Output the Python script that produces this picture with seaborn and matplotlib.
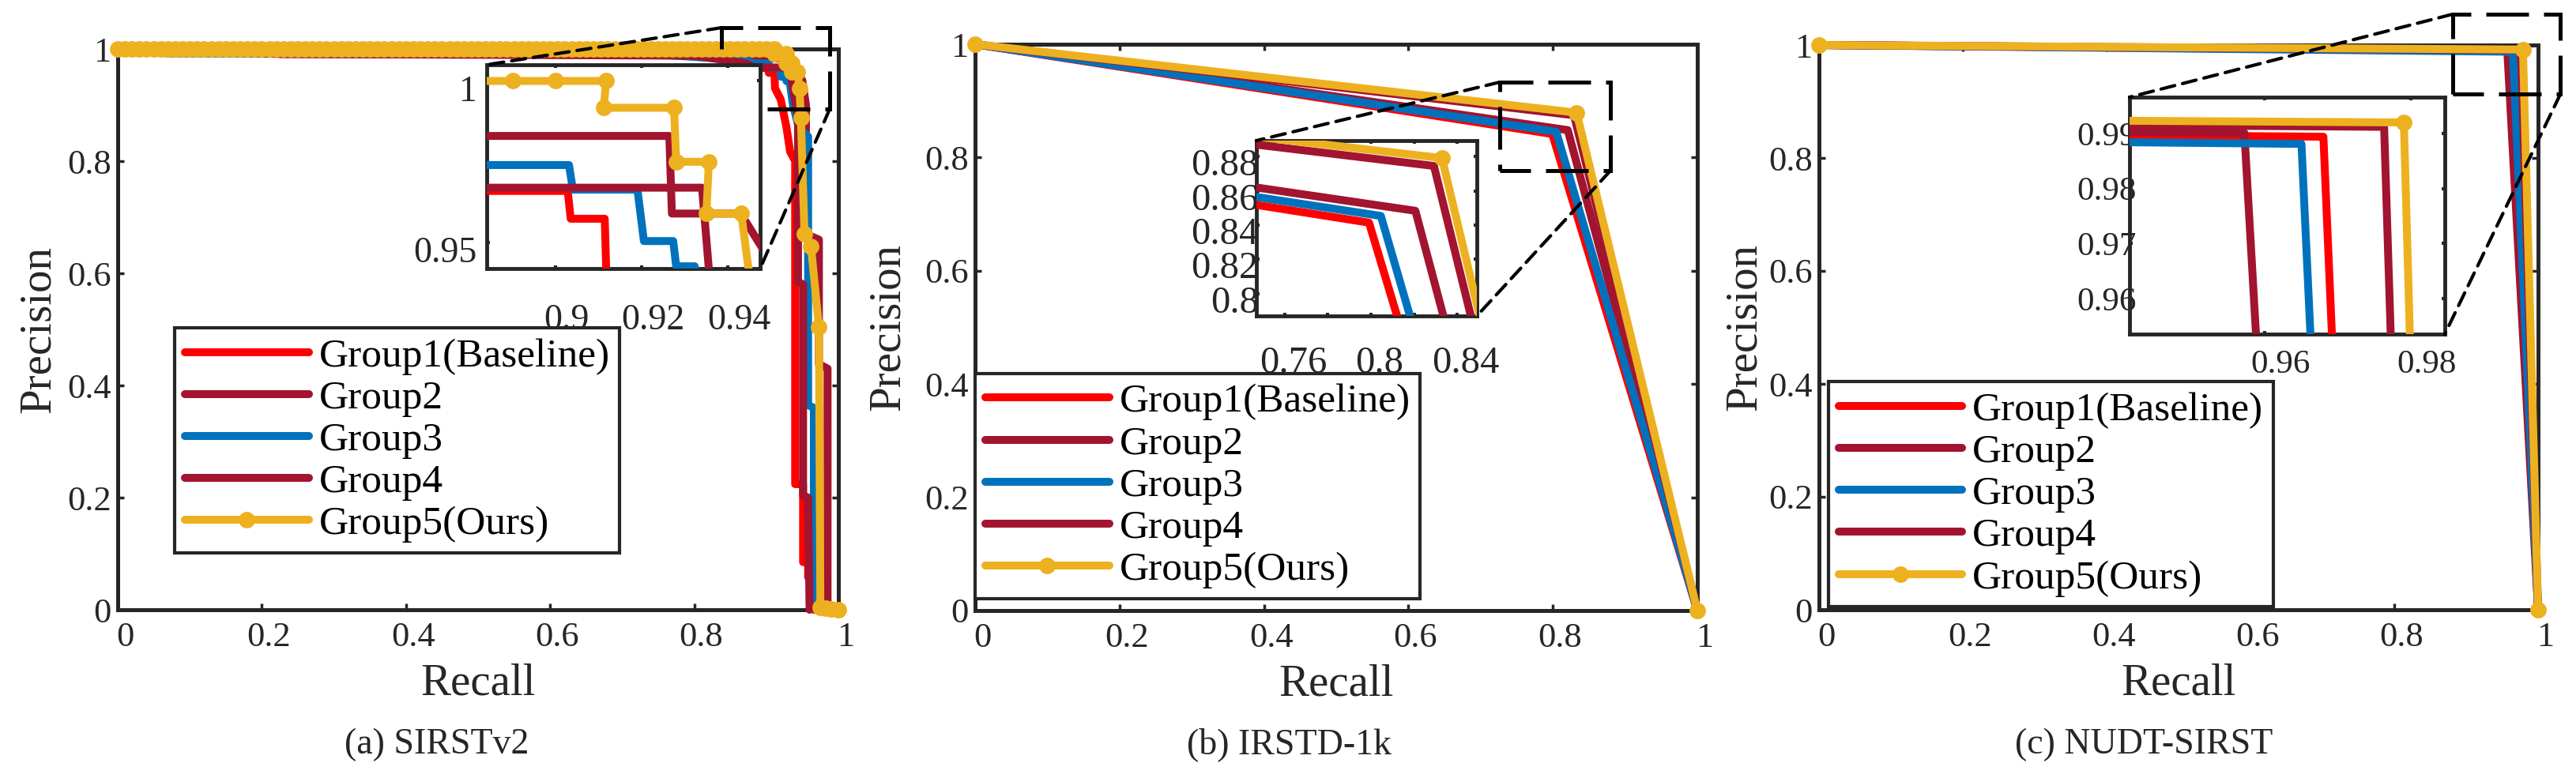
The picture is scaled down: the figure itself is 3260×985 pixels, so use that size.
import matplotlib.pyplot as plt
import matplotlib.transforms as mtrans
from matplotlib.patches import Rectangle, ConnectionPatch
import seaborn as sns
import pandas as pd

W, H = 3260, 985
INK = '#262626'

groups = ['Group1(Baseline)', 'Group2', 'Group3', 'Group4', 'Group5(Ours)']
palette = ['#FF0000', '#A2142F', '#0072BD', '#A2142F', '#EDB120']

# ---------------- (a) SIRSTv2 : PR curves ----------------
a_rec_g1 = [0, 0.60, 0.80, 0.85, 0.884, 0.9028, 0.9035, 0.9114, 0.912, 0.92, 0.928, 0.933,
            0.940, 0.940, 0.951, 0.951, 0.958, 0.958, 0.966, 0.966]
a_pre_g1 = [1.0, 0.995, 0.99, 0.985, 0.966, 0.966, 0.9574, 0.9574, 0.93, 0.91, 0.86, 0.817,
            0.80, 0.224, 0.224, 0.085, 0.085, 0.058, 0.058, 0.0]
a_rec_g2 = [0, 0.23, 0.80, 0.87, 0.884, 0.9264, 0.927, 0.943, 0.95, 0.955, 0.955, 0.973,
            0.973, 0.985, 0.985]
a_pre_g2 = [1.0, 0.991, 0.99, 0.985, 0.983, 0.983, 0.959, 0.959, 0.944, 0.90, 0.67, 0.66,
            0.438, 0.43, 0.0]
a_rec_g3 = [0, 0.07, 0.75, 0.87, 0.884, 0.9031, 0.904, 0.919, 0.9205, 0.9273, 0.928, 0.9323,
            0.937, 0.945, 0.958, 0.958, 0.966, 0.966, 0.97]
a_pre_g3 = [1.0, 0.992, 0.99, 0.98, 0.974, 0.974, 0.9664, 0.9664, 0.9505, 0.9505, 0.9427, 0.9427,
            0.90, 0.86, 0.844, 0.365, 0.36, 0.124, 0.0]
a_rec_g4 = [0, 0.23, 0.80, 0.87, 0.884, 0.934, 0.9357, 0.944, 0.944, 0.951, 0.951, 0.958, 0.96]
a_pre_g4 = [1.0, 0.991, 0.988, 0.975, 0.967, 0.967, 0.94, 0.877, 0.585, 0.58, 0.204, 0.2, 0.0]
a_rec_g5 = [0.00, 0.01, 0.02, 0.03, 0.04, 0.05, 0.06, 0.07, 0.08, 0.09,
            0.10, 0.11, 0.12, 0.13, 0.14, 0.15, 0.16, 0.17, 0.18, 0.19,
            0.20, 0.21, 0.22, 0.23, 0.24, 0.25, 0.26, 0.27, 0.28, 0.29,
            0.30, 0.31, 0.32, 0.33, 0.34, 0.35, 0.36, 0.37, 0.38, 0.39,
            0.40, 0.41, 0.42, 0.43, 0.44, 0.45, 0.46, 0.47, 0.48, 0.49,
            0.50, 0.51, 0.52, 0.53, 0.54, 0.55, 0.56, 0.57, 0.58, 0.59,
            0.60, 0.61, 0.62, 0.63, 0.64, 0.65, 0.66, 0.67, 0.68, 0.69,
            0.70, 0.71, 0.72, 0.73, 0.74, 0.75, 0.76, 0.77, 0.78, 0.79,
            0.80, 0.81, 0.82, 0.83, 0.84, 0.85, 0.86, 0.87, 0.88, 0.89, 0.90,
            0.9117, 0.9112, 0.9275, 0.928, 0.9356, 0.935, 0.9431, 0.946, 0.948, 0.953,
            0.962, 0.973, 0.975, 0.982, 0.990, 1.0]
a_pre_g5 = [1.0, 1.0, 1.0, 1.0, 1.0, 1.0, 1.0, 1.0, 1.0, 1.0,
            1.0, 1.0, 1.0, 1.0, 1.0, 1.0, 1.0, 1.0, 1.0, 1.0,
            1.0, 1.0, 1.0, 1.0, 1.0, 1.0, 1.0, 1.0, 1.0, 1.0,
            1.0, 1.0, 1.0, 1.0, 1.0, 1.0, 1.0, 1.0, 1.0, 1.0,
            1.0, 1.0, 1.0, 1.0, 1.0, 1.0, 1.0, 1.0, 1.0, 1.0,
            1.0, 1.0, 1.0, 1.0, 1.0, 1.0, 1.0, 1.0, 1.0, 1.0,
            1.0, 1.0, 1.0, 1.0, 1.0, 1.0, 1.0, 1.0, 1.0, 1.0,
            1.0, 1.0, 1.0, 1.0, 1.0, 1.0, 1.0, 1.0, 1.0, 1.0,
            1.0, 1.0, 1.0, 1.0, 1.0, 1.0, 1.0, 1.0, 1.0, 1.0, 1.0,
            1.0, 0.9917, 0.9917, 0.975, 0.975, 0.959, 0.959, 0.93, 0.877, 0.670,
            0.648, 0.504, 0.004, 0.003, 0.002, 0.0]

# ---------------- (b) IRSTD-1k ----------------
b_rec_g1, b_pre_g1 = [0, 0.7991, 1.0], [1.0, 0.8415, 0.0]
b_rec_g2, b_pre_g2 = [0, 0.8206, 1.0], [1.0, 0.8484, 0.0]
b_rec_g3, b_pre_g3 = [0, 0.8046, 1.0], [1.0, 0.8454, 0.0]
b_rec_g4, b_pre_g4 = [0, 0.8292, 1.0], [1.0, 0.8746, 0.0]
b_rec_g5, b_pre_g5 = [0, 0.8329, 1.0], [1.0, 0.8792, 0.0]

# ---------------- (c) NUDT-SIRST ----------------
c_rec_g1, c_pre_g1 = [0, 0.968, 1.0], [1.0, 0.9894, 0.0]
c_rec_g2, c_pre_g2 = [0, 0.9572, 1.0], [1.0, 0.9901, 0.0]
c_rec_g3, c_pre_g3 = [0, 0.965, 1.0], [1.0, 0.9881, 0.0]
c_rec_g4, c_pre_g4 = [0, 0.9763, 1.0], [1.0, 0.9912, 0.0]
c_rec_g5, c_pre_g5 = [0, 0.979, 1.0], [1.0, 0.992, 0.0]

main_ticks = [0, 0.2, 0.4, 0.6, 0.8, 1]
main_ticklabels = ['0', '0.2', '0.4', '0.6', '0.8', '1']
captions = ['(a) SIRSTv2', '(b) IRSTD-1k', '(c) NUDT-SIRST']

sns.set_theme(style='white')
plt.rcParams['font.family'] = ['Liberation Serif', 'DejaVu Serif']
SERIF = ['Liberation Serif', 'DejaVu Serif']


def px_rect(x0, y0, x1, y1):
    # pixel box (top-left origin) -> figure fraction
    return [x0 / W, (H - y1) / H, (x1 - x0) / W, (y1 - y0) / H]


def shift_labels(axis, dx, dy):
    off = mtrans.ScaledTranslation(dx / 100, dy / 100, fig.dpi_scale_trans)
    for t in axis.get_major_ticks():
        t.label1.set_transform(t.label1.get_transform() + off)
        t.label1.set_family(SERIF)


def draw_curves(ax, recs, precs, clip):
    for i, (r, p) in enumerate(zip(recs, precs)):
        df = pd.DataFrame({'Recall': r, 'Precision': p})
        kw = {}
        if i == 4:
            kw = dict(marker='o', markersize=15, markeredgecolor=palette[i], markeredgewidth=0)
        sns.lineplot(data=df, x='Recall', y='Precision', ax=ax, color=palette[i], linewidth=7.2,
                     sort=False, estimator=None, legend=False, clip_on=clip, zorder=3,
                     solid_capstyle='round', solid_joinstyle='round', **kw)


def style_axes(ax, lw, tlen, twidth, size, xpad, ypad):
    for s in ax.spines.values():
        s.set_linewidth(lw)
        s.set_color(INK)
    ax.tick_params(which='both', direction='in', length=tlen, width=twidth, colors=INK,
                   top=True, right=True, bottom=True, left=True, labelsize=size)
    ax.tick_params(axis='x', pad=xpad)
    ax.tick_params(axis='y', pad=ypad)
    ax.set_xlabel('')
    ax.set_ylabel('')


fig = plt.figure(figsize=(W / 100, H / 100), dpi=100)

main_boxes = [px_rect(149, 62, 1061, 772), px_rect(1234, 56, 2148, 773), px_rect(2302, 57, 3212, 772)]
inset_boxes = [px_rect(616, 82, 962, 340), px_rect(1590, 178, 1869, 400), px_rect(2695, 123, 3094, 423)]
inset_xlim = [(0.884, 0.9475), (0.7469, 0.8491), (0.9415, 0.9846)]
inset_ylim = [(0.942, 1.005), (0.787, 0.8894), (0.9535, 0.9966)]
inset_xt = [([0.9, 0.92, 0.94], ['0.9', '0.92', '0.94']),
            ([0.76, 0.8, 0.84], ['0.76', '0.8', '0.84']),
            ([0.96, 0.98], ['0.96', '0.98'])]
inset_yt = [([0.95, 1.0], ['0.95', '1']),
            ([0.8, 0.82, 0.84, 0.86, 0.88], ['0.8', '0.82', '0.84', '0.86', '0.88']),
            ([0.96, 0.97, 0.98, 0.99], ['0.96', '0.97', '0.98', '0.99'])]
inset_size = [33, 35, 31]
inset_pads = [(32, 9), (27, -2), (14, -6)]
inset_shift = [(14, -9), (11, -7), (20, 0)]
zoom_rects = [(0.838, 0.988, 0.893, 1.038), (0.7265, 0.8796, 0.7765, 0.933), (0.881, 1.031, 0.913, 1.0545)]
legend_anchor = [(0.079, 0.503), (0.0, 0.419), (0.013, 0.404)]
ylabel_x = [-0.1096, -0.120, -0.103]
caption_x = [553, 1632, 2713]

all_recs = [[a_rec_g1, a_rec_g2, a_rec_g3, a_rec_g4, a_rec_g5],
            [b_rec_g1, b_rec_g2, b_rec_g3, b_rec_g4, b_rec_g5],
            [c_rec_g1, c_rec_g2, c_rec_g3, c_rec_g4, c_rec_g5]]
all_pres = [[a_pre_g1, a_pre_g2, a_pre_g3, a_pre_g4, a_pre_g5],
            [b_pre_g1, b_pre_g2, b_pre_g3, b_pre_g4, b_pre_g5],
            [c_pre_g1, c_pre_g2, c_pre_g3, c_pre_g4, c_pre_g5]]

for k in range(3):
    ax = fig.add_axes(main_boxes[k])
    draw_curves(ax, all_recs[k], all_pres[k], clip=False)
    ax.set_xlim(0, 1)
    ax.set_ylim(0, 1)
    ax.set_xticks(main_ticks)
    ax.set_xticklabels(main_ticklabels)
    ax.set_yticks(main_ticks)
    ax.set_yticklabels(main_ticklabels)
    style_axes(ax, 3.6, 6, 2.5, 32, 11, 6)
    ax.set_xlabel('Recall', fontsize=41, color=INK, va='center', family=SERIF)
    ax.xaxis.set_label_coords(0.5, -0.131)
    ax.set_ylabel('Precision', fontsize=41, color=INK, va='center', family=SERIF)
    ax.yaxis.set_label_coords(ylabel_x[k], 0.5)
    shift_labels(ax.xaxis, 9, 0)
    shift_labels(ax.yaxis, 0, 0)

    leg = ax.legend(handles=ax.get_lines()[:5], labels=groups, loc='upper left',
                    bbox_to_anchor=legend_anchor[k], borderaxespad=0,
                    prop={'size': 37, 'family': SERIF},
                    handlelength=3.05, handletextpad=0.25, labelspacing=0.12, borderpad=0.25,
                    fancybox=False, framealpha=1, edgecolor=INK)
    leg.get_frame().set_linewidth(3)
    for t in leg.get_texts():
        t.set_color('black')

    # zoomed inset
    ins = fig.add_axes(inset_boxes[k])
    draw_curves(ins, all_recs[k], all_pres[k], clip=True)
    ins.set_xlim(*inset_xlim[k])
    ins.set_ylim(*inset_ylim[k])
    ins.set_xticks(inset_xt[k][0])
    ins.set_xticklabels(inset_xt[k][1])
    ins.set_yticks(inset_yt[k][0])
    ins.set_yticklabels(inset_yt[k][1])
    if k == 1:
        ins.set_xticks([0.78, 0.82], minor=True)
    style_axes(ins, 3.5, 3, 3, inset_size[k], *inset_pads[k])
    shift_labels(ins.xaxis, inset_shift[k][0], 0)
    shift_labels(ins.yaxis, 0, inset_shift[k][1])

    # dashed zoom box and connectors
    x0, x1, y0, y1 = zoom_rects[k]
    ax.add_patch(Rectangle((x0, y0), x1 - x0, y1 - y0, fill=False, ec='black', lw=3.6,
                           ls=(3, (10.8, 3.8)), clip_on=False, zorder=6))
    for bxy, cxy in [((x0, y1), (0, 1)), ((x1, y0), (1, 0))]:
        con = ConnectionPatch(xyA=bxy, coordsA=ax.transData, xyB=cxy, coordsB=ins.transAxes,
                              color='black', lw=3, ls=(0, (4.3, 2.4)), zorder=6)
        fig.add_artist(con)

    fig.text(caption_x[k] / W, 1 - 943 / H, captions[k], fontsize=33, ha='center', va='center',
             color=INK, family=SERIF)

fig.savefig('out.png', dpi=100)
